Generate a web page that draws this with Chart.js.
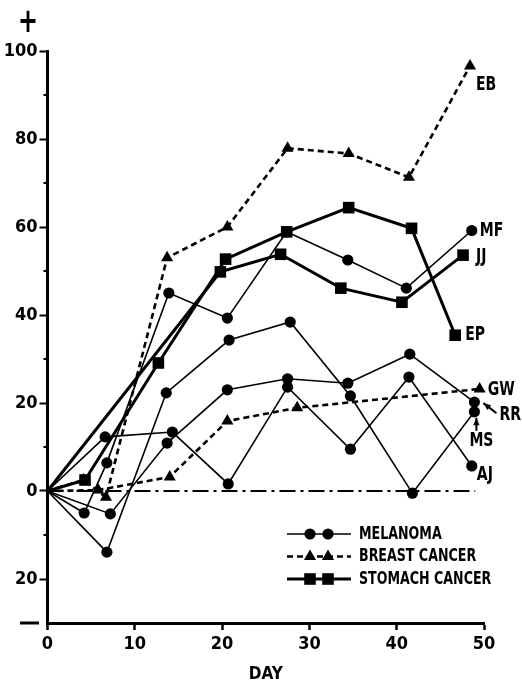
<!DOCTYPE html>
<html lang="en">
<head>
    <meta charset="utf-8">
    <title>Day response chart</title>
    <script src="https://cdn.jsdelivr.net/npm/chart.js"></script>
    <style>
        body {
            margin: 0;
            background: #fff;
        }
        #wrap {
            width: 522px;
            height: 685px;
            position: relative;
        }
    </style>
</head>
<body>
    <div id="wrap">
        <canvas id="dayChart"></canvas>
    </div>

    <script>
        // melanoma patients
        const mfDays = [0, 4.2, 6.8, 13.9, 20.6, 27.4, 34.4, 41.1, 48.6];
        const mfValues = [0, -5, 6.4, 45, 39.3, 58.9, 52.5, 46.1, 59.2];
        const ajDays = [0, 6.6, 14.3, 20.7, 27.5, 34.7, 41.4, 48.6];
        const ajValues = [0, 12.3, 13.4, 1.6, 23.6, 9.5, 25.9, 5.7];
        const rrDays = [0, 7.2, 13.7, 20.6, 27.5, 34.4, 41.5, 48.9];
        const rrValues = [0, -5.2, 10.9, 23, 25.5, 24.5, 31.1, 20.2];
        const msDays = [0, 6.8, 13.6, 20.8, 27.8, 34.7, 41.8, 48.9];
        const msValues = [0, -13.9, 22.3, 34.3, 38.4, 21.6, -0.5, 18];

        // breast cancer patients
        const ebDays = [0, 4.1, 6.7, 13.7, 20.6, 27.5, 34.5, 41.4, 48.4];
        const ebValues = [0, 2.5, -1.4, 53, 60, 77.9, 76.7, 71.3, 96.6];
        const gwDays = [0, 5.8, 14, 20.6, 28.6, 49.5];
        const gwValues = [0, 0.2, 3.2, 15.9, 18.9, 23.2];

        // stomach cancer patients
        const epDays = [0, 4.3, 12.7, 20.4, 27.4, 34.5, 41.7, 46.7];
        const epValues = [0, 2.5, 29.1, 52.7, 58.9, 64.4, 59.7, 35.4];
        const jjDays = [0, 19.8, 26.7, 33.6, 40.6, 47.6];
        const jjValues = [0, 49.8, 53.8, 46.1, 42.9, 53.6];

        // zero reference line
        const baseDays = [0, 49];
        const baseValues = [0, 0];

        const yTickLabels = { 100: '100', 80: '80', 60: '60', 40: '40', 20: '20', 0: '0', '-20': '20' };
        const yMinorTicks = [90, 70, 50, 30, 10, -10];
        const xTickStep = 10;

        const FONT = '"DejaVu Sans Condensed", "Liberation Sans Narrow", sans-serif';

        const groupStyle = {
            melanoma: { borderWidth: 1.6, borderDash: [], pointStyle: 'circle', pointRadius: 5.6 },
            breast: { borderWidth: 2.6, borderDash: [6, 4], pointStyle: 'triangle', pointRadius: 7 },
            stomach: { borderWidth: 3, borderDash: [], pointStyle: 'rect', pointRadius: 8.2 }
        };

        function points(days, values) {
            return days.map((d, i) => ({ x: d, y: values[i] }));
        }

        function series(name, group, days, values) {
            const s = groupStyle[group];
            return {
                label: name,
                data: points(days, values),
                borderColor: '#000',
                backgroundColor: '#000',
                borderWidth: s.borderWidth,
                borderDash: s.borderDash,
                pointStyle: s.pointStyle,
                pointRadius: days.map((d) => d === 0 ? 0 : s.pointRadius),
                pointBorderWidth: 0,
                pointBackgroundColor: '#000',
                tension: 0,
                clip: false
            };
        }

        const datasets = [
            {
                label: 'zero',
                data: points(baseDays, baseValues),
                borderColor: '#000',
                borderWidth: 2.2,
                borderDash: [16, 5, 3, 5],
                pointRadius: 0,
                clip: false
            },
            series('GW', 'breast', gwDays, gwValues),
            series('EB', 'breast', ebDays, ebValues),
            series('MF', 'melanoma', mfDays, mfValues),
            series('AJ', 'melanoma', ajDays, ajValues),
            series('RR', 'melanoma', rrDays, rrValues),
            series('MS', 'melanoma', msDays, msValues),
            series('EP', 'stomach', epDays, epValues),
            series('JJ', 'stomach', jjDays, jjValues)
        ];

        // where each name sits relative to the last point of its line
        const endLabels = [
            { name: 'EB', dx: 6, dy: 19 },
            { name: 'MF', dx: 8, dy: 0 },
            { name: 'JJ', dx: 13, dy: 2 },
            { name: 'EP', dx: 10, dy: 0 },
            { name: 'GW', dx: 8, dy: 1 },
            { name: 'RR', dx: 25, dy: 13, arrow: [22, 11, 9, 1] },
            { name: 'MS', dx: -5, dy: 29, arrow: [2, 19, 2, 6] },
            { name: 'AJ', dx: 5, dy: 9 }
        ];

        const legendItems = [
            { text: 'MELANOMA', group: 'melanoma' },
            { text: 'BREAST CANCER', group: 'breast' },
            { text: 'STOMACH CANCER', group: 'stomach' }
        ];

        function squeezedText(ctx, text, x, y, size, align) {
            ctx.save();
            ctx.font = 'bold ' + size + 'px ' + FONT;
            ctx.textBaseline = 'middle';
            ctx.textAlign = align || 'left';
            ctx.translate(x, y);
            ctx.scale(0.78, 1);
            ctx.fillText(text, 0, 0);
            ctx.restore();
        }

        function arrow(ctx, x1, y1, x2, y2) {
            const ang = Math.atan2(y2 - y1, x2 - x1);
            ctx.save();
            ctx.lineWidth = 2;
            ctx.beginPath();
            ctx.moveTo(x1, y1);
            ctx.lineTo(x2, y2);
            ctx.stroke();
            ctx.beginPath();
            ctx.moveTo(x2, y2);
            ctx.lineTo(x2 - 8 * Math.cos(ang - 0.4), y2 - 8 * Math.sin(ang - 0.4));
            ctx.lineTo(x2 - 8 * Math.cos(ang + 0.4), y2 - 8 * Math.sin(ang + 0.4));
            ctx.closePath();
            ctx.fill();
            ctx.restore();
        }

        const annotations = {
            id: 'annotations',
            afterDatasetsDraw(chart) {
                const ctx = chart.ctx;
                const yScale = chart.scales.y;
                ctx.save();
                ctx.fillStyle = '#000';
                ctx.strokeStyle = '#000';

                // short unlabeled ticks on the y axis
                ctx.lineWidth = 2;
                yMinorTicks.forEach(v => {
                    const py = yScale.getPixelForValue(v);
                    ctx.beginPath();
                    ctx.moveTo(yScale.right - 4, py);
                    ctx.lineTo(yScale.right, py);
                    ctx.stroke();
                });

                endLabels.forEach(lbl => {
                    const idx = chart.data.datasets.findIndex(d => d.label === lbl.name);
                    const meta = chart.getDatasetMeta(idx);
                    const last = meta.data[meta.data.length - 1];
                    squeezedText(ctx, lbl.name, last.x + lbl.dx, last.y + lbl.dy, 20);
                    if (lbl.arrow) {
                        const a = lbl.arrow;
                        arrow(ctx, last.x + a[0], last.y + a[1], last.x + a[2], last.y + a[3]);
                    }
                });

                // legend, lower right
                const lx = 287, ly = 534, gap = 22.5;
                legendItems.forEach((item, i) => {
                    const s = groupStyle[item.group];
                    const y = ly + i * gap;
                    ctx.save();
                    ctx.lineWidth = s.borderWidth;
                    ctx.setLineDash(s.borderDash);
                    ctx.beginPath();
                    ctx.moveTo(lx, y);
                    ctx.lineTo(lx + 64, y);
                    ctx.stroke();
                    ctx.restore();
                    [lx + 23, lx + 41].forEach(px => {
                        Chart.helpers.drawPoint(ctx, {
                            pointStyle: s.pointStyle,
                            radius: s.pointRadius,
                            borderWidth: 0,
                            rotation: 0
                        }, px, y);
                    });
                    squeezedText(ctx, item.text, lx + 72, y, 18);
                });

                // plus / minus signs by the y axis
                squeezedText(ctx, '+', 28, 23, 34, 'center');
                ctx.lineWidth = 3;
                ctx.beginPath();
                ctx.moveTo(20, 623);
                ctx.lineTo(39, 623);
                ctx.stroke();
                ctx.restore();
            }
        };

        new Chart(document.getElementById('dayChart'), {
            type: 'line',
            data: { datasets: datasets },
            options: {
                responsive: true,
                maintainAspectRatio: false,
                animation: false,
                layout: {
                    padding: { top: 51, right: 38, left: 0, bottom: 0 }
                },
                plugins: {
                    legend: { display: false },
                    tooltip: { enabled: false }
                },
                scales: {
                    x: {
                        type: 'linear',
                        min: 0,
                        max: 50,
                        afterFit: (scale) => { scale.height = 62; },
                        border: { display: true, color: '#000', width: 3 },
                        grid: {
                            drawOnChartArea: false,
                            drawTicks: true,
                            tickLength: 7,
                            tickWidth: 2.5,
                            tickColor: '#000'
                        },
                        ticks: {
                            stepSize: xTickStep,
                            color: '#000',
                            padding: 4,
                            maxRotation: 0,
                            font: { family: FONT, size: 18, weight: 'bold' }
                        },
                        title: {
                            display: true,
                            text: 'DAY',
                            color: '#000',
                            padding: { top: 2, bottom: 0 },
                            font: { family: FONT, size: 17, weight: 'bold' }
                        }
                    },
                    y: {
                        min: -30,
                        max: 100,
                        afterFit: (scale) => { scale.width = 47.5; },
                        border: { display: true, color: '#000', width: 3 },
                        grid: {
                            drawOnChartArea: false,
                            drawTicks: true,
                            tickLength: 8,
                            tickWidth: 2,
                            tickColor: (c) => (c.tick && yTickLabels[c.tick.value] !== undefined) ? '#000' : 'rgba(0,0,0,0)'
                        },
                        ticks: {
                            stepSize: 10,
                            color: '#000',
                            padding: 2,
                            font: { family: FONT, size: 18, weight: 'bold' },
                            callback: (v) => yTickLabels[v] !== undefined ? yTickLabels[v] : ''
                        }
                    }
                }
            },
            plugins: [annotations]
        });
    </script>
</body>
</html>
